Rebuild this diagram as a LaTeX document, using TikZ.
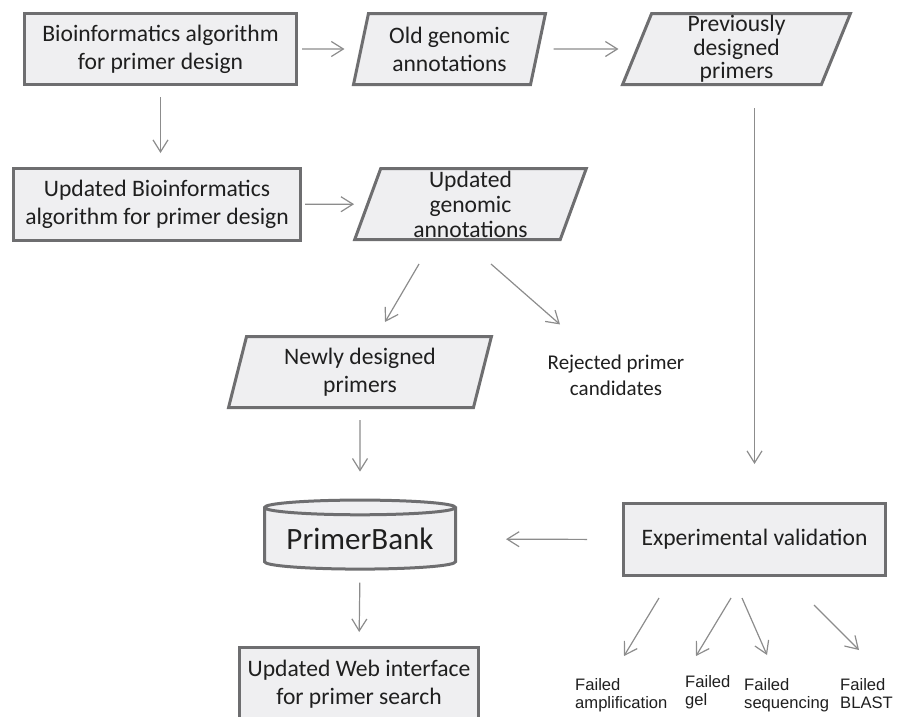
\documentclass[tikz,border=0pt]{standalone}
\usepackage{fontspec}
\setmainfont{Carlito}
\newfontfamily\arialfont{Liberation Sans}
\usetikzlibrary{shapes.geometric, arrows.meta}
\definecolor{boxline}{RGB}{110,110,112}
\definecolor{boxfill}{RGB}{239,239,241}
\definecolor{flowgray}{RGB}{140,140,140}
\tikzset{
flow/.style={-{Straight Barb[length=12pt,width=15pt]}, draw=flowgray, line width=1.2pt}, % thin grey arrows
procbox/.style={rectangle, draw=boxline, fill=boxfill, line width=3pt, align=center, inner sep=0pt, text=black!88, font=\fontsize{23.6}{28}\selectfont},
databox/.style={trapezium, trapezium left angle=76, trapezium right angle=104, trapezium stretches=true,
  draw=boxline, fill=boxfill, line width=3pt, align=center, inner sep=0pt, text=black!88, font=\fontsize{23.6}{28}\selectfont},
dbase/.style={cylinder, shape border rotate=90, aspect=0.1, draw=boxline, fill=boxfill, line width=3pt, inner sep=0pt, text=black!88, font=\fontsize{31}{37}\selectfont},
note/.style={align=center, inner sep=0pt, text=black!88, font=\fontsize{21}{26}\selectfont},
faillabel/.style={anchor=north west, align=left, inner sep=0pt, text=black!88, font=\arialfont\fontsize{16.6}{18}\selectfont}
}
\begin{document}
\begin{tikzpicture}[x=1pt, y=-1pt]
\useasboundingbox (0,0) rectangle (907,716);
\clip (0,0) rectangle (907,716);

% top row
\node[procbox, minimum width=272, minimum height=71] (algo) at (160.5,49) {Bioinformatics algorithm\\for primer design};
\node[databox, minimum width=192, minimum height=71] (oldann) at (449.5,49) {Old genomic\\annotations};
\node[databox, minimum width=228, minimum height=71, font=\fontsize{23.6}{23.5}\selectfont] (oldprim) at (736.5,49) {Previously\\designed\\primers};

% second row
\node[procbox, minimum width=287, minimum height=72] (newalgo) at (157,204.5) {Updated Bioinformatics\\algorithm for primer design};
\node[databox, minimum width=232, minimum height=71, font=\fontsize{23.6}{25}\selectfont] (newann) at (470.5,204) {Updated\\genomic\\annotations};

% candidates
\node[databox, minimum width=263, minimum height=71] (newprim) at (360,372) {Newly designed\\primers};
\node[note] (reject) at (616,375) {Rejected primer\\candidates};

% database and validation
\node[dbase, minimum width=191, minimum height=69] (bank) at (360,539) {PrimerBank};
\node[procbox, minimum width=262, minimum height=72] (valid) at (754.5,539.5) {Experimental validation};
\node[procbox, anchor=north, minimum width=239, inner ysep=13pt, text depth=14pt] (web) at (359,646) {Updated Web interface\\for primer search};

% failure classes
\node[faillabel] (famp) at (575,678) {Failed\\amplification};
\node[faillabel] (fgel) at (685,675) {Failed\\gel};
\node[faillabel] (fseq) at (744,678) {Failed\\sequencing};
\node[faillabel] (fblast) at (840,678) {Failed\\BLAST};

\draw[flow, shorten <=4pt, shorten >=15pt] (algo) -- (oldann);
\draw[flow, shorten <=14pt, shorten >=17pt] (oldann) -- (oldprim);
\draw[flow, shorten <=11pt, shorten >=14pt] (algo.south) -- (algo.south |- newalgo.north);
\draw[flow, shorten <=3pt, shorten >=12pt] (newalgo) -- (newann);
\draw[flow] ([shift={(-51.5,23)}]newann.south) -- ([shift={(25,-13)}]newprim.north);
\draw[flow] ([shift={(20.5,23)}]newann.south) -- ([shift={(-56,-30)}]reject.north);
\draw[flow, shorten <=11pt, shorten >=27pt] (newprim.south) -- (bank.north);
\draw[flow, shorten <=22pt, shorten >=38pt] (oldprim.south -| valid.north) -- (valid.north);
\draw[flow, shorten <=35pt, shorten >=49pt] (valid.west) -- (bank.east);
\draw[flow, shorten <=12pt, shorten >=14pt] (bank.south) -- (web.north);
\draw[flow] ([shift={(-95.5,21)}]valid.south) -- ([shift={(49,-22)}]famp.north west);
\draw[flow] ([shift={(-23.5,21)}]valid.south) -- ([shift={(11,-19)}]fgel.north west);
\draw[flow] ([shift={(-12.5,21)}]valid.south) -- ([shift={(23,-23)}]fseq.north west);
\draw[flow] ([shift={(59.5,28)}]valid.south) -- ([shift={(19,-28)}]fblast.north west);
\end{tikzpicture}
\end{document}
